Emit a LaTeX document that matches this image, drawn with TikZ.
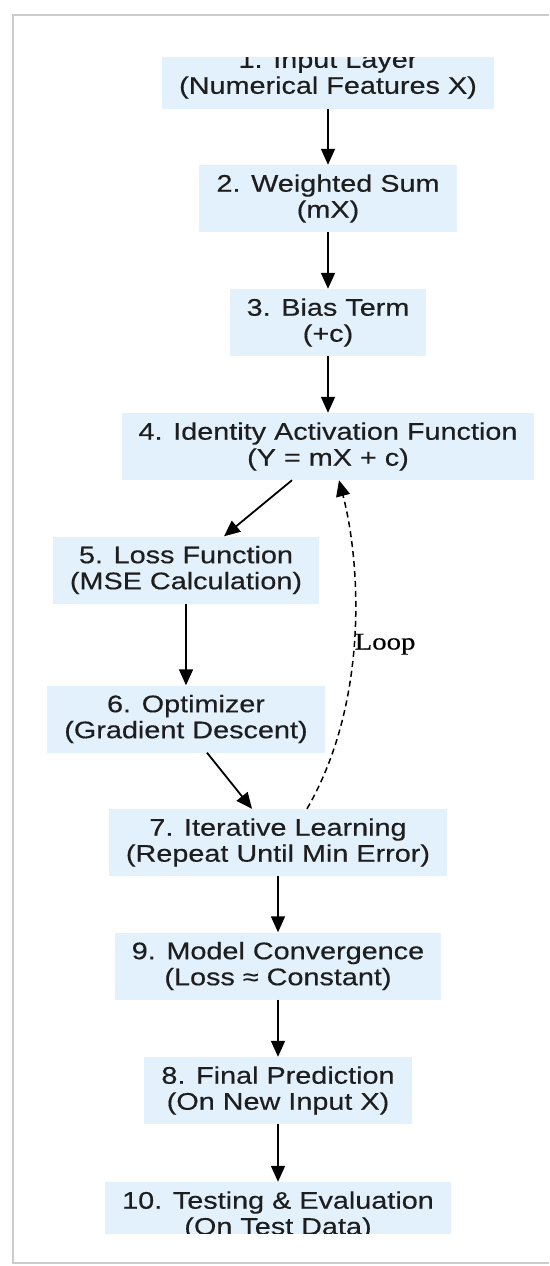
\documentclass[tikz,border=0pt]{standalone}
\usepackage{fontspec}
\setmainfont{Liberation Sans}[FakeStretch=1.2, FakeBold=0.4]
\newfontfamily\loopfont{Liberation Serif}[FakeStretch=1.2, FakeBold=0.3]
\usetikzlibrary{arrows.meta}
\definecolor{stagefill}{HTML}{E3F1FC}
\definecolor{stageink}{HTML}{1E1E1E}

\begin{document}
\begin{tikzpicture}[x=1pt, y=-1pt,
    stage/.style={rectangle, fill=stagefill, align=center, text=stageink,
        font=\fontsize{24}{26}\selectfont, inner xsep=17pt, minimum height=67pt},
    flow/.style={-{Triangle[length=16pt, width=14pt]}, line width=1.8pt},
    loopback/.style={flow, dash pattern=on 6pt off 4pt, line width=1.5pt}]

    \useasboundingbox (0,0) rectangle (549,1266);

    % Frame
    \draw[gray!40, line width=2.5pt] (549,15) -- (13,15) -- (13,1263) -- (549,1263);

    \begin{scope}
    \clip (0,57) rectangle (549,1233);

    % Nodes
    \node (input) [stage] at (328,75) {1. Input Layer\\(Numerical Features X)};
    \node (wsum) [stage] at (328,198.5) {2. Weighted Sum\\(mX)};
    \node (bias) [stage] at (328,322.5) {3. Bias Term\\(+c)};
    \node (act) [stage] at (328,446.5) {4. Identity Activation Function\\(Y = mX + c)};
    \node (loss) [stage] at (186,570) {5. Loss Function\\(MSE Calculation)};
    \node (optim) [stage] at (186,719) {6. Optimizer\\(Gradient Descent)};
    \node (iter) [stage] at (278,842.5) {7. Iterative Learning\\(Repeat Until Min Error)};
    \node (conv) [stage] at (278,966) {9. Model Convergence\\(Loss ≈ Constant)};
    \node (pred) [stage] at (278,1090.5) {8. Final Prediction\\(On New Input X)};
    \node (test) [stage] at (278,1215.5) {10. Testing \& Evaluation\\(On Test Data)};

    % Arrows
    \draw[flow] (input) -- (wsum);
    \draw[flow] (wsum) -- (bias);
    \draw[flow] (bias) -- (act);
    \draw[flow] ([xshift=-36pt]act.south) -- ([xshift=38pt]loss.north);
    \draw[flow] (loss) -- (optim);
    \draw[flow] ([xshift=21pt]optim.south) -- ([xshift=-26pt]iter.north);
    \draw[flow] (iter) -- (conv);
    \draw[flow] (conv) -- (pred);
    \draw[flow] (pred) -- (test);

    % Feedback
    \draw[loopback] ([xshift=29pt]iter.north) .. controls (370,700) and (360,560) ..
        node[pos=0.47, anchor=west, inner sep=0pt, font=\loopfont\fontsize{24}{26}\selectfont] {Loop}
        ([xshift=11pt]act.south);
    \end{scope}
\end{tikzpicture}
\end{document}
